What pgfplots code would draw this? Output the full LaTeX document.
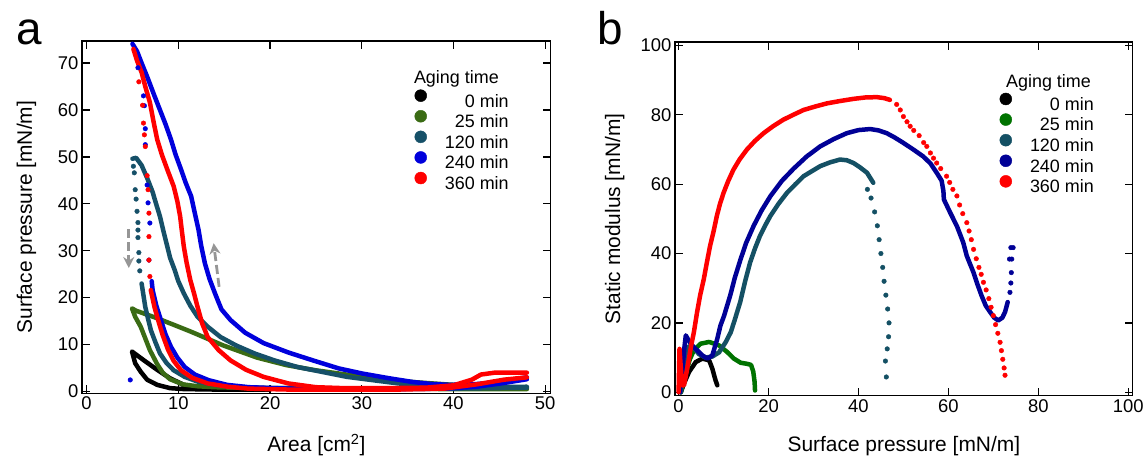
\documentclass[border=0pt]{standalone}
\usepackage{pgfplots}
\pgfplotsset{compat=1.18}
\usepackage{fontspec}
\setmainfont{Liberation Sans}
\usetikzlibrary{arrows.meta}
\definecolor{lA}{RGB}{0,0,0}
\definecolor{lB}{RGB}{58,107,20}
\definecolor{lC}{RGB}{22,80,104}
\definecolor{lD}{RGB}{0,0,220}
\definecolor{lE}{RGB}{255,0,0}
\definecolor{rB}{RGB}{0,115,0}
\definecolor{rC}{RGB}{20,80,100}
\definecolor{rD}{RGB}{0,0,150}
\definecolor{arr}{RGB}{150,150,150}
\begin{document}
\begin{tikzpicture}
\useasboundingbox (0bp,0bp) rectangle (1148bp,464bp);
\pgfplotsset{
  panel/.style={
    scale only axis,
    axis line style={line width=1.4bp},
    every tick/.style={line width=1.3bp, black},
    major tick length=8bp,
    tick align=inside,
    ticklabel style={font=\fontsize{18.5}{20}\selectfont},
    /pgf/number format/assume math mode=true,
    label style={font=\fontsize{21}{24}\selectfont},
    legend cell align=right,
    legend image code/.code={\fill[##1] (0bp,6.5bp) circle (6bp); \path (23bp,6.5bp);},
    legend style={draw=none, fill=none, inner sep=0pt, anchor=north east,
      font=\fontsize{18}{20}\selectfont, row sep=-1.75bp,
      nodes={inner sep=1pt, text height=13.5bp, text depth=3.8bp}},
  },
  dense/.style={line width=4.5bp, line join=round, line cap=round, mark=none},
  sparse/.style={only marks, mark=*, mark size=2.3bp},
}
% ---------------- panel a ----------------
\begin{axis}[panel,
  at={(82bp,70.7bp)}, anchor=south west,
  width=468.7bp, height=352.3bp,
  xmin=-0.5, xmax=50.6, ymin=-0.4, ymax=74.7,
  xtick={0,10,...,50}, ytick={0,10,...,70},
  xlabel={Area [cm\textsuperscript{2}]},
  ylabel={Surface pressure [mN/m]},
  xlabel style={at={(rel axis cs:0.5,-0.1666)}, anchor=base},
  ylabel style={at={(rel axis cs:-0.1067,0.5)}, anchor=base},
  legend style={at={(rel axis cs:0.913,0.863)}},
]
\addlegendimage{color=lA}\addlegendentry{0 min}
\addlegendimage{color=lB}\addlegendentry{25 min}
\addlegendimage{color=lC}\addlegendentry{120 min}
\addlegendimage{color=lD}\addlegendentry{240 min}
\addlegendimage{color=lE}\addlegendentry{360 min}
% 0 min
\addplot[dense, color=lA, forget plot] coordinates {
(20,0.4) (15,0.5) (12.4,0.7) (10.6,1.4) (9.1,2.8) (7.7,4.6) (6.2,6.7) (4.95,8.5)
(5.3,6.0) (5.9,4.2) (6.6,2.5) (7.7,1.4) (9.1,0.7) (10.6,0.5) (14,0.4) (20,0.4)};
% 25 min
\addplot[dense, color=lB, forget plot] coordinates {
(48,0.7) (44,1.0) (39.2,1.5) (35.6,2.0) (32,2.6) (28.3,3.6) (25,4.5) (21.8,5.6) (18.6,7.2)
(14.9,9.8) (11.3,12.8) (7.7,15.6) (5.4,17.2) (4.95,17.7)
(5.3,15.9) (5.9,13.8) (6.4,11.3) (6.9,8.8) (7.7,5.8) (8.3,4.0) (9.1,2.6) (10.5,1.5)
(12.1,1.1) (14,0.9) (16,0.8) (20,0.7) (30,0.6) (40,0.5) (48,0.5)};
% 120 min
\addplot[dense, color=lC, forget plot] coordinates {
(48,1.0) (44,0.9) (39.2,1.0) (34,1.7) (28.4,3.1) (23,5.2) (20.5,6.6) (18.3,8.1) (16.3,9.8)
(14.6,11.6) (13.2,13.8) (12.1,15.9) (11.3,18.3) (10.6,20.9) (10.0,23.5) (9.6,25.9) (9.1,28.5)
(8.8,30.9) (8.4,34) (8.0,37.3) (7.5,40.5) (7.2,42.5) (6.6,45.5) (6.0,48.2) (5.4,49.8) (5.0,49.6)};
\addplot[sparse, color=lC, forget plot] coordinates {
(5.1,48) (5.2,46.6) (5.3,43) (5.4,41) (5.5,38.4) (5.6,36) (5.6,34.4) (5.6,32.8) (5.7,29.6) (5.7,27.8) (5.8,25.7)};
\addplot[dense, color=lC, forget plot] coordinates {
(6.0,23) (6.2,20.5) (6.4,18) (6.7,15.5) (7.0,13.1) (7.5,10.5) (8.0,8.1) (8.7,6.1) (9.5,4.5)
(10.7,3.1) (12.1,2.1) (14,1.4) (15.7,1.0) (20,0.7) (30,0.6) (40,0.6) (48,0.8)};
% 240 min
\addplot[dense, color=lD, forget plot] coordinates {
(48,3.0) (46,2.4) (44,1.8) (42,1.5) (39.5,1.4) (37.5,1.6) (35.6,2.0) (33,2.8) (30.1,3.8) (27.5,4.9)
(24.7,6.6) (22,8.3) (19.3,10.3) (17.3,12.5) (15.7,15.2) (14.7,17.5) (14,20.9) (13.4,24)
(12.9,27.3) (12.5,31) (12.2,34.5) (11.8,38) (11.4,41.6) (10.8,44.5) (10.3,47.3) (9.7,50.5)
(9.2,53.7) (8.6,57) (8.1,59.5) (7.4,63) (6.7,66.6) (6.0,70) (5.5,72.5) (5.0,74.1)};
\addplot[sparse, color=lD, forget plot] coordinates {
(5.6,69) (6.2,63) (6.3,60.9) (6.4,56) (6.4,52.6) (6.6,44) (6.7,40.2) (6.9,35.9) (6.8,28) (4.76,2.45)};
\addplot[dense, color=lD, forget plot] coordinates {
(7.1,23.5) (7.2,21.6) (7.6,18.3) (8.1,15.2) (8.6,12.2) (9.2,9.5) (9.9,7.2) (10.7,5.2) (11.8,3.6)
(13.3,2.4) (15.3,1.4) (17.7,0.9) (22,0.6) (28,0.5) (34,0.5) (39,0.6) (42.5,1.0) (45.5,1.8) (48,2.6)};
% 360 min
\addplot[dense, color=lE, forget plot] coordinates {
(48,4.0) (46,4.0) (44.5,4.0) (43,3.6) (42,2.5) (40,1.3) (37,0.8) (33,0.7) (28,0.7) (25,0.9)
(22,1.7) (19.3,3.1) (17.4,4.6) (15.7,6.6) (14.4,8.8) (13.2,11.6) (12.6,14.5) (12.1,18) (11.7,21)
(11.3,23.8) (10.9,27.5) (10.6,30.9) (10.4,34) (10.2,37.3) (9.9,40.5) (9.5,43.7) (8.8,47.3)
(8.2,50.5) (7.7,53.7) (7.3,57.5) (6.9,61.6) (6.4,65) (6.0,68) (5.5,70.5) (5.1,73)};
\addplot[sparse, color=lE, forget plot] coordinates {
(5.7,66) (6.1,61) (6.2,57.2) (6.3,54.7) (6.4,52.2) (6.6,46) (6.7,43) (6.8,38) (6.8,33) (6.8,28) (6.9,24.5)};
\addplot[dense, color=lE, forget plot] coordinates {
(7.0,21.6) (7.4,18) (7.8,15.2) (8.3,12) (8.9,8.8) (9.5,6.5) (10.3,4.5) (11.5,2.9) (13.2,1.7)
(15.4,1.0) (17.6,0.6) (22,0.4) (28,0.4) (34,0.4) (39,0.6) (42.5,1.5) (45.5,2.5) (48,3.0)};
% arrows
\draw[arr, line width=2.8bp, dash pattern=on 9bp off 4bp, -{Stealth[length=11bp,width=11bp]}]
  (axis cs:4.6,34.6) -- (axis cs:4.6,26.3);
\draw[arr, line width=2.8bp, dash pattern=on 9bp off 4bp, -{Stealth[length=11bp,width=11bp]}]
  (axis cs:14.45,22.3) -- (axis cs:13.85,31.6);
\node[anchor=base west, font=\fontsize{18}{20}\selectfont, inner sep=0pt]
  at (rel axis cs:0.708,0.8794) {Aging time};
\end{axis}
% ---------------- panel b ----------------
\begin{axis}[panel,
  at={(675bp,68.3bp)}, anchor=south west,
  width=457.7bp, height=353.7bp,
  xmin=-0.8, xmax=101, ymin=-1, ymax=101,
  xtick={0,20,...,100}, ytick={0,20,...,100},
  xlabel={Surface pressure [mN/m]},
  ylabel={Static modulus [mN/m]},
  xlabel style={at={(rel axis cs:0.5,-0.159)}, anchor=base},
  ylabel style={at={(rel axis cs:-0.120,0.5)}, anchor=base},
  legend style={at={(rel axis cs:0.9176,0.857)}},
]
\addlegendimage{color=lA}\addlegendentry{0 min}
\addlegendimage{color=rB}\addlegendentry{25 min}
\addlegendimage{color=rC}\addlegendentry{120 min}
\addlegendimage{color=rD}\addlegendentry{240 min}
\addlegendimage{color=lE}\addlegendentry{360 min}
% 0 min
\addplot[dense, color=lA, forget plot] coordinates {
(0.5,0) (1.2,2.5) (2.3,5.8) (3.8,8.7) (5.3,9.7) (6.8,9.2) (7.5,6.8) (8.2,3.5) (8.6,2)};
% 25 min
\addplot[dense, color=rB, forget plot] coordinates {
(0.5,0) (1.5,5) (2.5,9.5) (3.4,12.1) (4.9,14) (6.8,14.5) (9,13.5) (10.8,11.6) (12.3,9.7)
(13.8,8.5) (15.2,8.2) (16.1,7.9) (16.6,6) (16.9,3) (17,0.5)};
% 120 min
\addplot[dense, color=rC, forget plot] coordinates {
(0.5,0) (1.2,8) (2,13) (3,13.5) (4.5,11) (6,10) (7.5,10.3) (9,11.5) (10.5,14.5) (11.6,17.3)
(12.4,20.5) (13.7,26) (14.8,32) (15.9,37.4) (17,41.5) (18.1,45.1) (19.3,48.2) (20.4,50.8)
(22.2,54.3) (24.1,57.5) (26,60) (27.8,62.3) (29.7,63.8) (31.5,65.2) (33.7,66.3) (35.9,67.1)
(37.4,66.9) (38.9,66.1) (40.4,64.8) (41.9,63.3) (43.3,60.4)};
\addplot[sparse, color=rC, forget plot] coordinates {
(42,58.5) (42.8,56) (43.6,52) (44.2,48) (44.6,44) (45,40) (45.4,36) (45.7,32) (46.1,28)
(46.5,24) (46.8,20) (46.7,16) (46.4,12.5) (46,9) (46.2,4.4)};
% 240 min
\addplot[dense, color=rD, forget plot] coordinates {
(0.3,0) (0.8,6) (1.3,13) (1.6,16.4) (2.2,15) (3,13.5) (3.8,12.5) (5.3,10.6) (6.4,9.7) (7.5,10.6)
(8.6,15.4) (9.3,19.2) (10.1,22) (11.5,28) (12.5,33) (13.7,38) (15,43) (16.7,48) (18.5,52.5)
(20.4,56.5) (23,61) (25.6,64.5) (28.5,68) (31.5,70.9) (34.5,73) (37.4,74.7) (40,75.6) (42.6,75.9)
(44.5,75.5) (46.3,74.7) (48,73.5) (50,71.9) (52.2,70) (54.4,68) (56,66) (57.4,63.3) (58.5,61)
(58.9,58) (59,55.6) (60.4,51.8) (61.9,47.9) (63.3,43.2) (64.1,39.3) (65.6,34.5) (66.5,31)
(67.4,27.8) (68.3,25) (69.3,23.1) (70.2,21.5) (71.1,20.7) (72,21.5) (72.6,23.1) (73.2,26)};
\addplot[sparse, color=rD, forget plot] coordinates {
(73.7,28.8) (73.9,31.5) (74.0,34.5) (74.1,38.4) (73.6,38.4) (74.4,41.7) (73.9,41.7)};
% 360 min
\addplot[dense, color=lE, forget plot] coordinates {
(0,0) (0.2,12.5) (0.6,5) (0.8,2) (1.2,2) (1.8,6) (2.3,9.7) (2.8,13.5) (3.4,17.3) (4.1,23)
(4.8,28) (5.6,32.6) (6.3,37.5) (7.0,42.2) (7.8,46.5) (8.5,50.8) (9.2,54.3) (10,57.5) (11,60.8)
(12.2,64.2) (13.6,67.2) (15.2,70) (17,72.5) (18.9,74.7) (21,76.7) (23.3,78.6) (25.5,80)
(27.8,81.4) (30.4,82.4) (33,83.3) (36,84) (38.9,84.6) (41.5,85) (44.1,85.1) (45.8,84.8) (47,84.3)};
\addplot[sparse, color=lE, forget plot] coordinates {
(48.5,83) (49.3,81.4) (50,79.5) (50.8,78) (51.5,76.7) (52.3,75.5) (53.5,74) (54.5,72) (55.2,70.9)
(56,69) (56.7,67.5) (57.4,66.1) (58.3,64.5) (59.6,62.3) (60.3,60.5) (61,58.5) (61.9,56.6)
(62.5,54) (63.2,51.5) (64.1,48.9) (64.6,46.5) (65.1,44) (65.6,41.2) (66.2,38.5) (66.8,36)
(67.3,34) (67.8,31.7) (68.4,29.5) (69,27) (69.5,24.5) (70,22.1) (70.5,19.5) (71,17) (71.5,14.4)
(71.8,12) (72.1,9.5) (72.4,7) (72.6,4.9)};
\node[anchor=base west, font=\fontsize{18}{20}\selectfont, inner sep=0pt]
  at (rel axis cs:0.723,0.872) {Aging time};
\end{axis}
\node[anchor=base west, font=\fontsize{46}{50}\selectfont, inner sep=0pt] at (16bp,419bp) {a};
\node[anchor=base west, font=\fontsize{46}{50}\selectfont, inner sep=0pt] at (597bp,419bp) {b};
\end{tikzpicture}
\end{document}
